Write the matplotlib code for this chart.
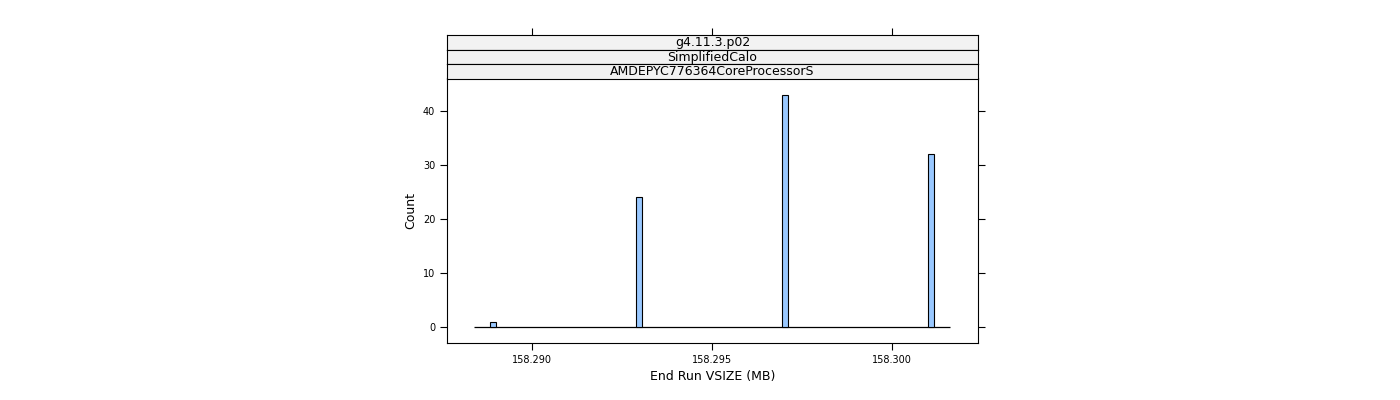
import numpy as np
import matplotlib.pyplot as plt

# histogram data
bin_centers = [158.28892, 158.29297, 158.29703, 158.30108]
counts = [1, 24, 43, 32]
bin_width = 0.000167
zero_range = (158.2884, 158.3016)
strips = ["g4.11.3.p02", "SimplifiedCalo", "AMDEPYC776364CoreProcessorS"]
xticks = [158.290, 158.295, 158.300]
yticks = [0, 10, 20, 30, 40]

fig = plt.figure(figsize=(14, 4), dpi=100)
ax = fig.add_axes([447/1400, 57/400, 531/1400, 265/400])

ax.hlines(0, *zero_range, color="black", lw=0.9, zorder=1)
ax.bar(bin_centers, counts, width=bin_width, color="#99c8ff",
       edgecolor="black", linewidth=0.8, zorder=2)

ax.set_xlim(158.28764, 158.30239)
ax.set_ylim(-2.96, 46.1)
ax.set_xticks(xticks)
ax.set_xticklabels([f"{v:.3f}" for v in xticks])
ax.set_yticks(yticks)
ax.tick_params(axis="both", labelsize=7, direction="out", length=5, width=0.8,
               right=True, top=False)
ax.tick_params(axis="y", labelright=False)
for s in ax.spines.values():
    s.set_linewidth(0.8)
ax.set_xlabel("End Run VSIZE (MB)", fontsize=9)
ax.set_ylabel("Count", fontsize=9)

# strips above the panel
for i, label in enumerate(strips):
    top = 35 + i * 14.5
    sax = fig.add_axes([447/1400, (400 - top - 14.5)/400, 531/1400, 14.5/400])
    sax.set_facecolor("#f2f2f2")
    sax.set_xticks([])
    sax.set_yticks([])
    for s in sax.spines.values():
        s.set_linewidth(0.8)
    sax.text(0.5, 0.45, label, ha="center", va="center", fontsize=9,
             transform=sax.transAxes)
    if i == 0:
        sax.set_xlim(ax.get_xlim())
        sax.set_xticks(xticks)
        sax.tick_params(axis="x", top=True, bottom=False, labeltop=False,
                        labelbottom=False, length=5, width=0.8)

fig.savefig("out.png")
